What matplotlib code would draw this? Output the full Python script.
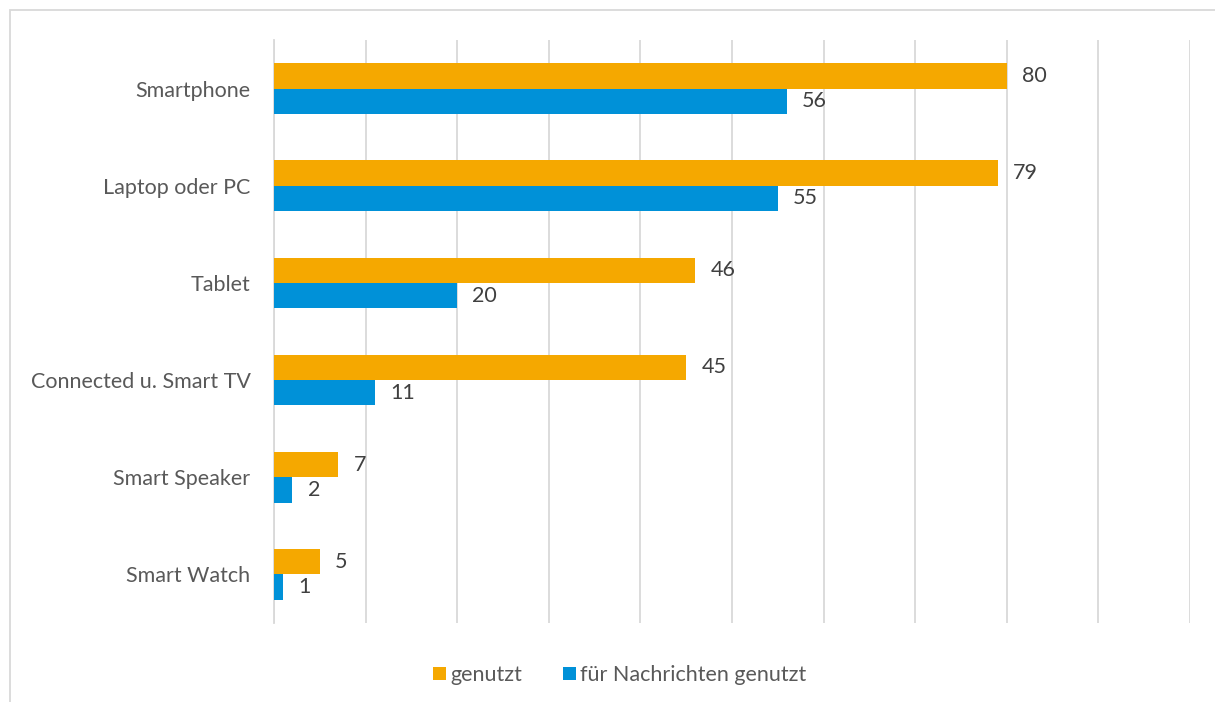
import matplotlib
matplotlib.use("Agg")
import matplotlib.pyplot as plt
from matplotlib.patches import Rectangle
import numpy as np

categories = ["Smartphone", "Laptop oder PC", "Tablet", "Connected u. Smart TV", "Smart Speaker", "Smart Watch"]
genutzt = [80, 79, 46, 45, 7, 5]
nachrichten = [56, 55, 20, 11, 2, 1]
series_names = ["genutzt", "für Nachrichten genutzt"]

orange = "#F5A800"
blue = "#0091D8"
grid = "#D9D9D9"
text_c = "#595959"

plt.rcParams['font.family'] = ['Lato', 'DejaVu Sans']

fig = plt.figure(figsize=(12.15, 7.02), dpi=100)
ax = fig.add_axes([274/1215, 1-623/702, (1190-274)/1215, (623-40)/702])

n = len(categories)
y = np.arange(n)
h = 0.26
ax.barh(y - h/2, genutzt, height=h, color=orange, label=series_names[0], zorder=3)
ax.barh(y + h/2, nachrichten, height=h, color=blue, label=series_names[1], zorder=3)

fs = 15.5
for i in range(n):
    ax.annotate(str(genutzt[i]), (genutzt[i], y[i] - h/2), xytext=(11, 0), textcoords="offset points",
                va="center", ha="left", fontsize=fs, color="#404040")
    ax.annotate(str(nachrichten[i]), (nachrichten[i], y[i] + h/2), xytext=(11, 0), textcoords="offset points",
                va="center", ha="left", fontsize=fs, color="#404040")

ax.set_xlim(0, 100)
ax.set_ylim(n - 0.5, -0.5)
ax.set_xticks(np.arange(0, 101, 10))
ax.set_xticklabels([])
ax.tick_params(axis="x", length=0)
ax.set_yticks(y)
ax.set_yticklabels(categories, fontsize=fs, color=text_c)
ax.tick_params(axis="y", length=0, pad=17)
ax.xaxis.grid(True, color=grid, linewidth=1.3, zorder=0)
for s in ["top", "right", "bottom"]:
    ax.spines[s].set_visible(False)
ax.spines["left"].set_color(grid)
ax.spines["left"].set_linewidth(1.3)

leg = fig.legend(loc="center", bbox_to_anchor=(620/1215, 1-675/702), ncol=2, frameon=False,
                 fontsize=fs, handlelength=0.6, handleheight=0.6, handletextpad=0.2, columnspacing=1.9)
for t in leg.get_texts():
    t.set_color(text_c)

fig.patches.append(Rectangle((10/1215, -0.1), 1.2, 1 - 10/702 + 0.1, transform=fig.transFigure,
                             fill=False, edgecolor=grid, linewidth=1.3))

fig.savefig("out.png", dpi=100)
